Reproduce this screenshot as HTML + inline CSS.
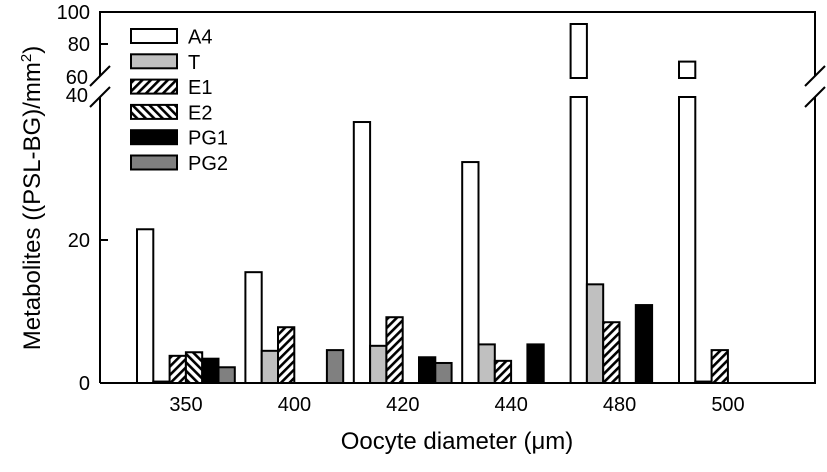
<!DOCTYPE html>
<html><head><meta charset="utf-8"><style>
html,body{margin:0;padding:0;background:#fff}
svg{display:block;font-family:"Liberation Sans",Arial,sans-serif}
</style></head><body>
<svg id="chart" width="827" height="472" viewBox="0 0 827 472">
<defs>
<pattern id="hatchF" patternUnits="userSpaceOnUse" width="6" height="6" patternTransform="rotate(45)"><rect width="6" height="6" fill="#fff"/><rect width="2.6" height="6" fill="#000"/></pattern>
<pattern id="hatchB" patternUnits="userSpaceOnUse" width="6" height="6" patternTransform="rotate(-45)"><rect width="6" height="6" fill="#fff"/><rect width="2.6" height="6" fill="#000"/></pattern>
</defs>
<g id="bars"></g>
<g id="axes"></g>
<g id="legend"></g>
<text x="457" y="449" font-size="24" text-anchor="middle">Oocyte diameter (μm)</text>
<text transform="translate(40,198) rotate(-90)" font-size="24" text-anchor="middle">Metabolites ((PSL-BG)/mm<tspan font-size="15" dy="-9">2</tspan><tspan dy="9">)</tspan></text>
</svg>
<script>
const categories = ["350","400","420","440","480","500"];
const seriesNames = ["A4","T","E1","E2","PG1","PG2"];
const A4  = [21.5, 15.5, 36.5, 30.9, 92.5, 69];
const T   = [0.2, 4.5, 5.2, 5.4, 13.8, 0.2];
const E1  = [3.8, 7.8, 9.2, 3.1, 8.5, 4.6];
const E2  = [4.3, 0, 0, 0, 0, 0];
const PG1 = [3.4, 0, 3.6, 5.4, 10.9, 0];
const PG2 = [2.2, 4.6, 2.8, 0, 0, 0];
const lowerTicks = [0, 20];
const upperTicks = [80, 100];
const breakLabels = [60, 40];

const series = [A4, T, E1, E2, PG1, PG2];
const fills = ["#fff", "#c0c0c0", "url(#hatchF)", "url(#hatchB)", "#000", "#808080"];
const NS = "http://www.w3.org/2000/svg";
const L = 100, R = 815, TOP = 12, BOT = 383;
const yLow = v => BOT - v * 7.15;
const yUp = v => 76 - (v - 60) * 1.6;
const groupX = i => 137 + i * 108.4;
const slotW = 16.3;

function mk(tag, attrs, parent) {
  const e = document.createElementNS(NS, tag);
  for (const k in attrs) e.setAttribute(k, attrs[k]);
  parent.appendChild(e);
  return e;
}
const bars = document.getElementById('bars');
series.forEach((s, si) => {
  s.forEach((v, ci) => {
    if (v <= 0) return;
    const x = groupX(ci) + si * slotW;
    if (v <= 40) {
      const r = mk('rect', {x: x, y: yLow(v), width: slotW, height: BOT - yLow(v), fill: fills[si], stroke: '#000', 'stroke-width': 2}, bars);
      
      
    } else {
      const r1 = mk('rect', {x: x, y: yLow(40), width: slotW, height: BOT - yLow(40), fill: fills[si], stroke: '#000', 'stroke-width': 2}, bars);
      
      
      const r2 = mk('rect', {x: x, y: yUp(v), width: slotW, height: yUp(60) + 2 - yUp(v), fill: fills[si], stroke: '#000', 'stroke-width': 2}, bars);
      
      
    }
  });
});

const ax = document.getElementById('axes');
const st = {stroke: '#000', 'stroke-width': 2, fill: 'none'};
mk('path', Object.assign({d: `M${L},${BOT}H${R}V97 M${R},76V${TOP}H${L}V76 M${L},97V${BOT}`}, st), ax);
[[L, 76], [L, 97], [R, 76], [R, 97]].forEach(p => {
  mk('line', Object.assign({x1: p[0] - 10, y1: p[1] + 10, x2: p[0] + 10, y2: p[1] - 10}, st), ax);
});
lowerTicks.forEach(v => {
  mk('line', Object.assign({x1: L, x2: L + 8, y1: yLow(v), y2: yLow(v)}, st), ax);
  const t = mk('text', {x: 90, y: yLow(v) + 7, 'font-size': 20, 'text-anchor': 'end'}, ax);
  t.textContent = v;
  
  
});
upperTicks.forEach(v => {
  if (v < 100) mk('line', Object.assign({x1: L, x2: L + 8, y1: yUp(v), y2: yUp(v)}, st), ax);
  const t = mk('text', {x: 90, y: yUp(v) + 7, 'font-size': 20, 'text-anchor': 'end'}, ax);
  t.textContent = v;
  
  
});
[[60, 84], [40, 102]].forEach((p, i) => {
  const t = mk('text', {x: 88, y: p[1], 'font-size': 20, 'text-anchor': 'end'}, ax);
  t.textContent = breakLabels[i];
  
  
});
categories.forEach((c, i) => {
  const t = mk('text', {x: groupX(i) + 49, y: 411, 'font-size': 20, 'text-anchor': 'middle'}, ax);
  t.textContent = c;
  
  
});

const lg = document.getElementById('legend');
seriesNames.forEach((n, i) => {
  const cy = 36 + i * 25.3;
  const g = mk('g', {}, lg);
  
  
  mk('rect', {x: 131, y: cy - 7, width: 46, height: 14, fill: fills[i], stroke: '#000', 'stroke-width': 2}, g);
  const t = mk('text', {x: 188, y: cy + 7.5, 'font-size': 20}, g);
  t.textContent = n;
});
</script>
</body></html>
